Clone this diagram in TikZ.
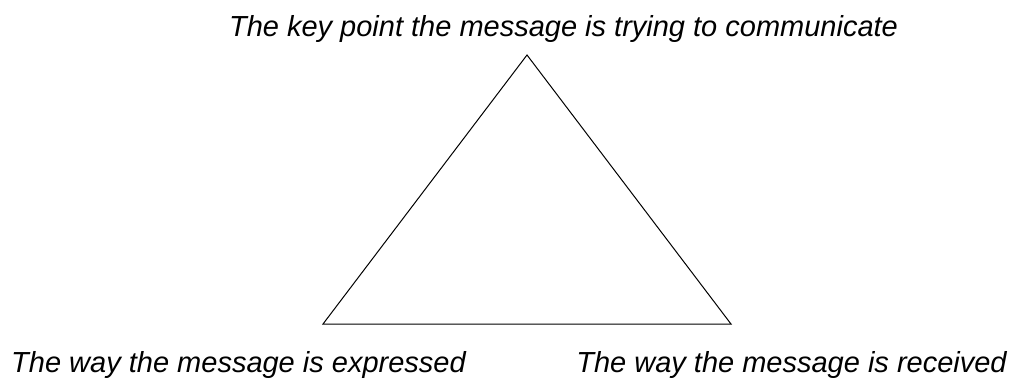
\documentclass[tikz,border=0pt]{standalone}
\usepackage{fontspec}
\setmainfont{Liberation Sans}
\usetikzlibrary{positioning}

\tikzset{
	label/.style={anchor=base, inner sep=0pt, font=\fontsize{29}{34}\selectfont\itshape},
}

\begin{document}
\begin{tikzpicture}[x=1pt,y=-1pt]
			\useasboundingbox (0,0) rectangle (1012,378);
			\coordinate (top) at (527,55);
			\coordinate (left) at (323,324);
			\coordinate (right) at (731,324);
			\draw[line width=1pt, line join=miter] (top) -- (left) -- (right) -- cycle;
			\node[label] (point) at (563.5,36) {The key point the message is trying to communicate};
			\node[label] (expressed) at (238.5,372) {The way the message is expressed};
			\node[label] (received) at (791.5,372) {The way the message is received};
		\end{tikzpicture}
\end{document}
